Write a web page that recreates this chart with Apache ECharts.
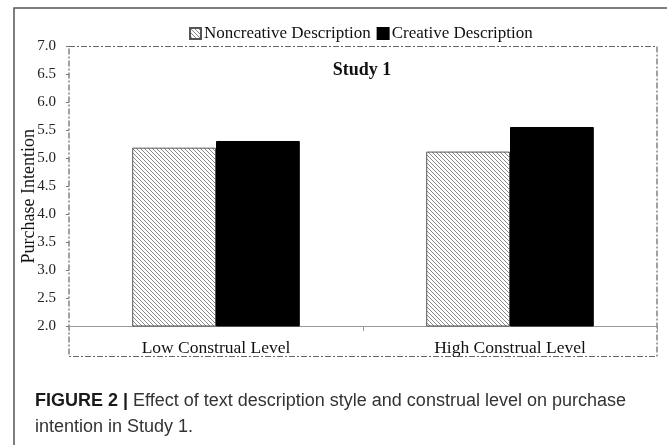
<!DOCTYPE html>
<html>
<head>
<meta charset="utf-8">
<style>
  html, body { margin: 0; padding: 0; background: #fff; }
  #main { width: 667px; height: 445px; }
</style>
<script src="https://cdn.jsdelivr.net/npm/echarts@6/dist/echarts.min.js"></script>
</head>
<body>
<div id="main"></div>
<script>
// 数据
var categories = ['Low Construal Level', 'High Construal Level'];
var seriesNames = ['Noncreative Description', 'Creative Description'];
var noncreative = [5.19, 5.12];
var creative = [5.31, 5.56];

// 斜线填充
function hatch() {
  var c = document.createElement('canvas');
  c.width = 4;
  c.height = 4;
  var ctx = c.getContext('2d');
  ctx.fillStyle = '#fff';
  ctx.fillRect(0, 0, 4, 4);
  ctx.strokeStyle = '#8a8a8a';
  ctx.lineWidth = 1;
  [-4, 0, 4].forEach(function(k) {
    ctx.beginPath();
    ctx.moveTo(k, 0);
    ctx.lineTo(k + 4, 4);
    ctx.stroke();
  });
  return c;
}

var serif = 'Liberation Serif';

var option = {
  backgroundColor: '#fff',
  animation: false,
  title: [
    {
      text: 'Study 1',
      left: 357,
      top: 56,
      textAlign: 'center',
      textStyle: { fontFamily: serif, fontWeight: 'bold', fontSize: 18, color: '#111' },
    },
    {
      text: '{b|FIGURE 2 |} Effect of text description style and construal level on purchase\nintention in Study 1.',
      left: 30,
      top: 383,
      textStyle: {
        fontFamily: 'Liberation Sans',
        fontWeight: 'normal',
        fontSize: 18,
        color: '#333',
        lineHeight: 26,
        rich: {
          b: { fontFamily: 'Liberation Sans', fontWeight: 'bold', fontSize: 18, color: '#1a1a1a', lineHeight: 26 },
        },
      },
    },
  ],
  legend: {
    data: seriesNames,
    top: 20,
    left: 184,
    itemWidth: 11,
    itemHeight: 11,
    itemGap: 6,
    icon: 'rect',
    textStyle: { fontFamily: serif, fontSize: 17, color: '#111', padding: [0, 0, 0, -2] },
  },
  grid: { left: 69, right: 10, top: 46.5, bottom: 119, containLabel: false },
  xAxis: {
    type: 'category',
    data: categories,
    axisLine: { lineStyle: { color: '#999', width: 1 } },
    axisTick: { show: true, length: 5, lineStyle: { color: '#999' } },
    axisLabel: { fontFamily: serif, fontSize: 17.5, color: '#111', margin: 13 },
  },
  yAxis: {
    type: 'value',
    min: 2,
    max: 7,
    interval: 0.5,
    name: 'Purchase Intention',
    nameLocation: 'middle',
    nameGap: 31,
    nameMoveOverlap: false,
    nameTextStyle: { fontFamily: serif, fontSize: 18, color: '#111', padding: [0, 20, 0, 0] },
    axisLine: { show: false },
    axisTick: { show: true, length: 3, lineStyle: { color: '#777' } },
    splitLine: { show: false },
    axisLabel: {
      fontFamily: serif,
      fontSize: 15,
      color: '#222',
      margin: 13,
      formatter: function(v) {
        return v.toFixed(1);
      },
    },
  },
  series: [
    {
      name: seriesNames[0],
      type: 'bar',
      data: noncreative,
      barWidth: '28.5%',
      barGap: '0%',
      itemStyle: {
        color: { image: hatch(), repeat: 'repeat' },
        borderColor: '#555',
        borderWidth: 1,
      },
    },
    {
      name: seriesNames[1],
      type: 'bar',
      data: creative,
      barWidth: '28.5%',
      itemStyle: { color: '#000', borderColor: '#000', borderWidth: 1 },
    },
  ],
  graphic: [
    {
      type: 'rect',
      silent: true,
      shape: { x: 69, y: 46.5, width: 588, height: 310 },
      style: { fill: 'none', stroke: '#666', lineWidth: 1.2, lineDash: [6, 2, 2, 2] },
    },
    {
      type: 'polyline',
      silent: true,
      shape: { points: [[14, 445], [14, 8], [667, 8]] },
      style: { fill: 'none', stroke: '#555', lineWidth: 1.5 },
    },
  ],
};

var myChart = echarts.init(document.getElementById('main'));
myChart.setOption(option);
</script>
</body>
</html>
